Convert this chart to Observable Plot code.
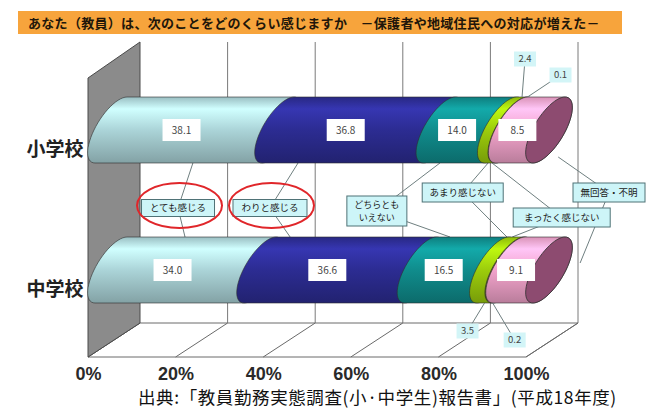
<!DOCTYPE html>
<html lang="ja"><head><meta charset="utf-8">
<script src="https://cdn.jsdelivr.net/npm/d3@7"></script>
<script src="https://cdn.jsdelivr.net/npm/@observablehq/plot@0.6"></script>
<style>
html,body{margin:0;padding:0;background:#fff;}
body{width:657px;height:412px;position:relative;overflow:hidden;font-family:"Noto Sans CJK JP","Noto Sans",sans-serif;}
#title{position:absolute;left:18px;top:11px;width:604px;height:23px;background:#f7a43c;box-sizing:border-box;padding-left:10px;font-size:13px;font-weight:700;line-height:23px;color:#21160a;white-space:nowrap;letter-spacing:0.3px;}
#chart{position:absolute;left:0;top:38px;}
#caption{position:absolute;left:138px;top:386px;font-size:17.5px;color:#111;white-space:nowrap;line-height:22px;letter-spacing:0.6px;}
</style></head><body>
<div id="title">あなた（教員）は、次のことをどのくらい感じますか　－保護者や地域住民への対応が増えた－</div>
<div id="chart"></div>
<div id="caption">出典:「教員勤務実態調査(小·中学生)報告書」(平成18年度)</div>
<script>
// ---- data ----
const schools = ["小学校", "中学校"];
const categories = ["とても感じる", "わりと感じる", "どちらともいえない", "あまり感じない", "まったく感じない", "無回答・不明"];
const elementary = [38.1, 36.8, 14.0, 2.4, 0.1, 8.5];
const juniorHigh = [34.0, 36.6, 16.5, 3.5, 0.2, 9.1];
const tickValues = [0, 20, 40, 60, 80, 100];

// ---- styles / layout ----
const colors = ["#abd4d8", "#2c2c92", "#108c8c", "#9ccc0c", "#5d6a1c", "#f2a3cb"];
const capColor = "#8d4b70";
const BACK = [140, 578];        // x range of the back plane
const DEPTH = [52, 34];         // back -> front offset
const TOP = 4, FLOOR = 285;
const AXIS_DX = -29;            // cylinder axis (mid depth)
const RY = 33, RX = 17, SHEAR = 16;
const LABEL_DX = -13;

const calloutLayout = [
  {category: "とても感じる", lines: ["とても感じる"], p: 15.3, dy: 78, w: 73, h: 17, ring: true, upper: 18.7, lower: 16.9, udy: 33, ldy: -33},
  {category: "わりと感じる", lines: ["わりと感じる"], p: 36.3, dy: 78, w: 74, h: 17, ring: true, upper: 42.7, lower: 40.9, udy: 33, ldy: -33},
  {category: "どちらともいえない", lines: ["どちらとも", "いえない"], p: 60.7, dy: 81, w: 60, h: 30, upper: 75.1, lower: 77.4, udy: 33, ldy: -33},
  {category: "あまり感じない", lines: ["あまり感じない"], p: 80.3, dy: 62.5, w: 81, h: 19, upper: 86.1, lower: 90.4, udy: 33, ldy: -33},
  {category: "無回答・不明", lines: ["無回答・不明"], p: 113.7, dy: 62.5, w: 72, h: 19, upper: 102.1, lower: 107.1, udy: 27, ldy: -7},
  {category: "まったく感じない", lines: ["まったく感じない"], p: 102.9, dy: 87.5, w: 97, h: 19, upper: 87.0, lower: 91.6, udy: 33, ldy: -33}
];
const smallOffsets = {
  "小学校|あまり感じない": [3, -38], "小学校|まったく感じない": [33, -22],
  "中学校|あまり感じない": [-17, 28], "中学校|まったく感じない": [22, 37]
};

const rows = schools.flatMap((s, si) => categories.map((c, ci) => ({school: s, category: c, value: [elementary, juniorHigh][si][ci]})));

const bandCenter = (scales, key) => scales.y(key) + (scales.y.bandwidth ? scales.y.bandwidth() : 0) / 2;

function ellipsePts(c, cy, t0, t1, n = 28) {
  const pts = [];
  for (let k = 0; k <= n; k++) {
    const t = t0 + (t1 - t0) * k / n;
    pts.push([c + RX * Math.cos(t) - SHEAR * Math.sin(t), cy + RY * Math.sin(t)]);
  }
  return pts;
}
const toD = pts => "M" + pts.map(p => p[0].toFixed(2) + "," + p[1].toFixed(2)).join("L") + "Z";
function segPath(c1, c2, cy) {
  return toD([...ellipsePts(c2, cy, -Math.PI / 2, Math.PI / 2), ...ellipsePts(c1, cy, Math.PI / 2, 3 * Math.PI / 2)]);
}
function addGradient(defs, id, col) {
  const c = d3.color(col);
  const lg = defs.append("linearGradient").attr("id", id).attr("x1", 0).attr("y1", 0).attr("x2", 0).attr("y2", 1);
  [[0, c.darker(0.3)], [0.18, c.brighter(0.55)], [0.5, c], [1, c.darker(0.75)]].forEach(([o, cc]) =>
    lg.append("stop").attr("offset", o).attr("stop-color", cc.formatHex()));
}

// 3D frame: floor, left wall, back grid lines, depth lines
function frame3d(index, scales) {
  const X = scales.x;
  const [dx, dy] = DEPTH;
  const g = d3.create("svg:g");
  const x0 = X(0), x1 = X(1);
  g.append("path").attr("d", `M${x0},${FLOOR}L${x1},${FLOOR}L${x1 - dx},${FLOOR + dy}L${x0 - dx},${FLOOR + dy}Z`)
    .attr("fill", "#fff").attr("stroke", "#6a6a6a").attr("stroke-width", 1);
  for (const t of tickValues) {
    const xt = X(t / 100);
    if (t > 0) g.append("line").attr("x1", xt).attr("x2", xt).attr("y1", TOP).attr("y2", FLOOR).attr("stroke", "#7a7a7a");
    g.append("line").attr("x1", xt).attr("x2", xt - dx).attr("y1", FLOOR).attr("y2", FLOOR + dy).attr("stroke", "#6a6a6a");
  }
  g.append("path").attr("d", `M${x0},${TOP}L${x0},${FLOOR}L${x0 - dx},${FLOOR + dy}L${x0 - dx},${TOP + dy + 2}Z`)
    .attr("fill", "#8b8b8b").attr("stroke", "#4a4a4a").attr("stroke-width", 1);
  return g.node();
}

// leader lines (drawn below the cylinders)
function leaders(index, scales) {
  const X = scales.x;
  const g = d3.create("svg:g").attr("stroke", "#6f7f80").attr("stroke-width", 1);
  const cyU = bandCenter(scales, schools[0]), cyL = bandCenter(scales, schools[1]);
  for (const c of calloutLayout) {
    const bx = X(c.p / 100) + AXIS_DX, by = cyU + c.dy;
    g.append("line").attr("x1", bx).attr("y1", by).attr("x2", X(c.upper / 100) + AXIS_DX).attr("y2", cyU + c.udy);
    g.append("line").attr("x1", bx).attr("y1", by).attr("x2", X(c.lower / 100) + AXIS_DX).attr("y2", cyL + c.ldy);
  }
  return g.node();
}

// callout boxes (drawn above)
function callouts(index, scales) {
  const X = scales.x;
  const g = d3.create("svg:g");
  const cyU = bandCenter(scales, schools[0]);
  for (const c of calloutLayout) {
    const bx = X(c.p / 100) + AXIS_DX, by = cyU + c.dy;
    g.append("rect").attr("x", bx - c.w / 2).attr("y", by - c.h / 2).attr("width", c.w).attr("height", c.h)
      .attr("fill", "#cdf5f8").attr("stroke", "#4f7276").attr("stroke-width", 1);
    const t = g.append("text").attr("font-size", c.lines.length > 1 ? 9 : 9.5).attr("fill", "#222").attr("text-anchor", "middle");
    c.lines.forEach((ln, k) => t.append("tspan").attr("x", bx).attr("y", by + (k - (c.lines.length - 1) / 2) * 13).attr("dy", "0.35em").text(ln));
    if (c.ring) g.append("ellipse").attr("cx", bx + 1.5).attr("cy", by - 2.5).attr("rx", 42.5).attr("ry", 22.5)
      .attr("fill", "none").attr("stroke", "#e0262a").attr("stroke-width", 2);
  }
  return g.node();
}

function cylinders(index, scales, values) {
  const g = d3.create("svg:g");
  const defs = g.append("defs");
  const ends = new Map();
  for (const i of index) {
    const cy = bandCenter(scales, rows[i].school);
    const c1 = values.x1[i] + AXIS_DX, c2 = values.x2[i] + AXIS_DX;
    const id = "cyl-grad-" + i;
    addGradient(defs, id, values.fill[i]);
    g.append("path").attr("d", segPath(c1, c2, cy)).attr("fill", `url(#${id})`)
      .attr("stroke", "#2e2e2e").attr("stroke-width", 0.6);
    ends.set(cy, Math.max(ends.get(cy) ?? -Infinity, c2));
  }
  for (const [cy, c] of ends) {
    g.append("path").attr("d", toD(ellipsePts(c, cy, 0, 2 * Math.PI, 60))).attr("fill", capColor)
      .attr("stroke", "#2e2e2e").attr("stroke-width", 0.8);
  }
  return g.node();
}

function valueLabels(index, scales, values) {
  const g = d3.create("svg:g");
  for (const i of index) {
    const r = rows[i];
    const cy = bandCenter(scales, r.school);
    const txt = r.value.toFixed(1);
    if (r.value >= 5) {
      const x = values.x[i] + AXIS_DX + LABEL_DX;
      g.append("rect").attr("x", x - 19).attr("y", cy - 11).attr("width", 38).attr("height", 22).attr("fill", "#fff");
      g.append("text").attr("x", x).attr("y", cy).attr("dy", "0.35em").attr("text-anchor", "middle")
        .attr("font-size", 10).attr("fill", "#444").text(txt);
    } else {
      const off = smallOffsets[r.school + "|" + r.category];
      const upper = r.school === schools[0];
      const ax = values.x[i] + AXIS_DX + (upper ? SHEAR : -SHEAR);
      const ay = cy + (upper ? -RY : RY);
      const lx = ax + off[0], ly = ay + off[1];
      g.append("line").attr("x1", ax).attr("y1", ay).attr("x2", lx).attr("y2", ly).attr("stroke", "#6f7f80");
      g.append("rect").attr("x", lx - 11).attr("y", ly - 7.5).attr("width", 22).attr("height", 15).attr("fill", "#d3f5f7");
      g.append("text").attr("x", lx).attr("y", ly).attr("dy", "0.35em").attr("text-anchor", "middle")
        .attr("font-size", 9.5).attr("fill", "#444").text(txt);
    }
  }
  return g.node();
}

const stackOpts = {x: "value", y: "school", offset: "normalize"};

const chart = Plot.plot({
  width: 657,
  height: 350,
  marginTop: 0, marginRight: 0, marginBottom: 0, marginLeft: 0,
  style: {background: "transparent", fontFamily: "'Noto Sans CJK JP', sans-serif"},
  x: {domain: [0, 1], range: BACK, axis: null},
  y: {type: "band", domain: schools, range: [22, 302], padding: 0, axis: null},
  color: {domain: categories, range: colors},
  marks: [
    frame3d,
    leaders,
    Plot.barX(rows, Plot.stackX({...stackOpts, fill: "category", render: cylinders})),
    Plot.text(rows, Plot.stackX({...stackOpts, text: d => d.value.toFixed(1), render: valueLabels})),
    callouts,
    Plot.text(tickValues, {x: d => d / 100, text: d => d + "%", frameAnchor: "bottom", dx: -DEPTH[0], dy: -14.5,
      fontSize: 18, fontWeight: "bold", fill: "#2a2a2a", fontFamily: "'Liberation Sans', Arial, sans-serif", textAnchor: "middle", lineAnchor: "middle"}),
    Plot.text(schools, {x: 0, y: d => d, text: d => d, textAnchor: "end", dx: -57, dy: 19,
      fontSize: 19, fontWeight: "bold", fill: "#222", fontFamily: "'Noto Sans CJK JP', sans-serif"})
  ]
});
document.getElementById("chart").appendChild(chart);
</script>
</body></html>
